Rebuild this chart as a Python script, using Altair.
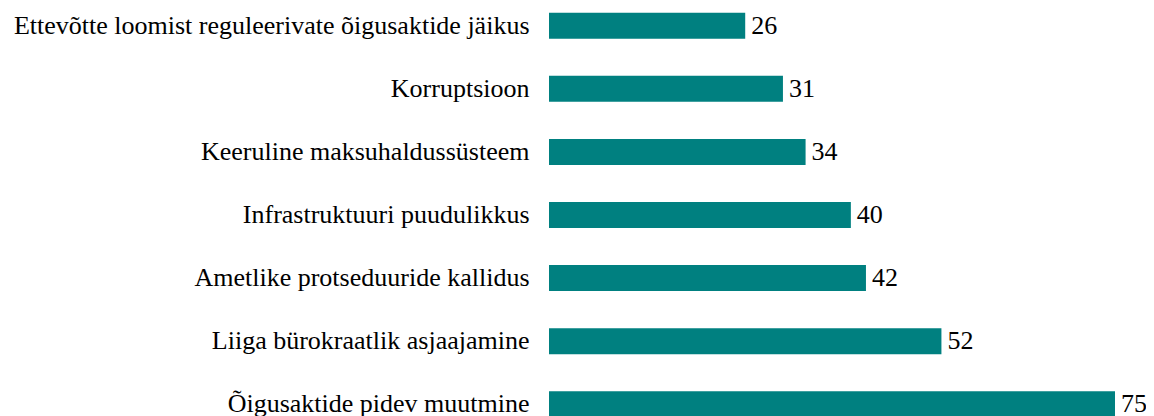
import altair as alt
import pandas as pd

categories = [
    "Ettevõtte loomist reguleerivate õigusaktide jäikus",
    "Korruptsioon",
    "Keeruline maksuhaldussüsteem",
    "Infrastruktuuri puudulikkus",
    "Ametlike protseduuride kallidus",
    "Liiga bürokraatlik asjaajamine",
    "Õigusaktide pidev muutmine",
]
values = [26, 31, 34, 40, 42, 52, 75]

df = pd.DataFrame({"cat": categories, "val": values})

FONT = "Times New Roman, Liberation Serif, serif"

y = alt.Y(
    "cat:N",
    sort=categories,
    axis=alt.Axis(
        title=None, ticks=False, domain=False,
        labelFont=FONT, labelFontSize=26, labelColor="black",
        labelPadding=20, labelLimit=0,
    ),
    scale=alt.Scale(paddingInner=0.588, paddingOuter=0.076, range=[0, 414]),
)
x = alt.X("val:Q", scale=alt.Scale(domain=[0, 75], nice=False), axis=None)

bars = alt.Chart(df).mark_bar(color="#008080").encode(x=x, y=y)
labels = alt.Chart(df).mark_text(
    align="left", baseline="middle", dx=6,
    font=FONT, fontSize=26, color="black",
).encode(x=x, y=y, text="val:Q")

chart = (bars + labels).properties(
    width=566,
    height=408,
    autosize=alt.AutoSizeParams(type="none"),
    padding={"left": 541, "top": 0, "right": 31, "bottom": 0},
).configure_view(stroke=None)

chart.save("out.html", embed_options={"renderer": "svg", "actions": False})
